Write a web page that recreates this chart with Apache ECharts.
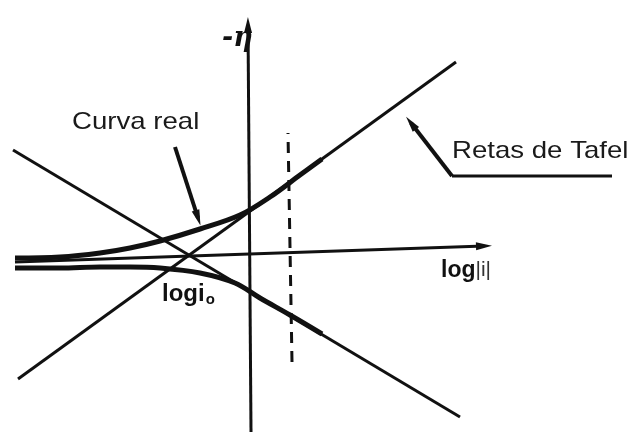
<!DOCTYPE html>
<html>
<head>
<meta charset="utf-8">
<script src="https://cdn.jsdelivr.net/npm/echarts@6/dist/echarts.min.js"></script>
<style>
  html, body { margin: 0; padding: 0; background: #fff; }
  #chart { width: 630px; height: 434px; }
</style>
</head>
<body>
<div id="chart"></div>
<script>
// Tafel diagram: -η (up) against log|i| (right), drawn in plane units 0..630 x 0..434.

// Tafel straight lines (start, end)
const tafelCathodic = [[13, 284], [460, 17]];
const tafelAnodic = [[18, 55], [456, 372]];

// Real polarisation curve, two branches leaving η = 0 and joining the Tafel lines
const realUpper = [[15, 176], [60, 177], [100, 181], [130, 186], [160, 193], [200, 205], [240, 219], [270, 237], [300, 259], [322, 275]];
const realLower = [[15, 166], [60, 166], [100, 167], [130, 167], [160, 166], [200, 161], [235, 151], [260, 136], [290, 119], [322, 100]];

// Axes (start, arrow end)
const axisLogI = [[15, 172], [484, 188]];
const axisEta = [[251, 2], [248, 409]];

// Dashed vertical marker
const dashedMarker = [[292, 72], [288, 301]];

// Pointers for the annotations
const pointerReal = [[175, 287], [198, 216]];
const pointerTafelFoot = [[612, 258], [452, 258]];
const pointerTafel = [[452, 258], [411, 311]];

// Annotation texts
const labelReal = 'Curva real';
const labelTafel = 'Retas de Tafel';

const chart = echarts.init(document.getElementById('chart'), null, { renderer: 'canvas' });

const ink = '#111';

function seg(p, opts) {
  return [Object.assign({ coord: p[0] }, opts || {}), { coord: p[1] }];
}

const option = {
  animation: false,
  backgroundColor: '#ffffff',
  grid: { left: 0, right: 0, top: 0, bottom: 0 },
  xAxis: { type: 'value', min: 0, max: 630, show: false },
  yAxis: { type: 'value', min: 0, max: 434, show: false },
  series: [
    {
      type: 'line',
      data: tafelCathodic,
      symbol: 'none',
      lineStyle: { color: ink, width: 3 }
    },
    {
      type: 'line',
      data: tafelAnodic,
      symbol: 'none',
      lineStyle: { color: ink, width: 3 }
    },
    {
      type: 'line',
      data: realUpper,
      symbol: 'none',
      smooth: 0.35,
      lineStyle: { color: ink, width: 5 }
    },
    {
      type: 'line',
      data: realLower,
      symbol: 'none',
      smooth: 0.35,
      lineStyle: { color: ink, width: 5 }
    },
    {
      type: 'line',
      data: dashedMarker,
      symbol: 'none',
      lineStyle: { color: ink, width: 3, type: [11, 8] }
    },
    {
      type: 'line',
      data: pointerTafelFoot,
      symbol: 'none',
      lineStyle: { color: ink, width: 3 }
    },
    {
      type: 'line',
      data: [],
      markLine: {
        silent: true,
        symbol: ['none', 'triangle'],
        label: { show: false },
        emphasis: { disabled: true },
        lineStyle: { color: ink, type: 'solid', width: 3 },
        data: [
          seg(axisLogI, { symbolSize: [13, 18] }),
          seg(axisEta, { symbolSize: [14, 26] }),
          seg(pointerReal, { symbolSize: [16, 22], lineStyle: { width: 4 } }),
          seg(pointerTafel, { symbolSize: [20, 24], lineStyle: { width: 4 } })
        ]
      }
    }
  ],
  graphic: [
    {
      type: 'text', left: 72, top: 110, scaleX: 1.15,
      style: { text: labelReal, font: '24px "Liberation Sans", Arial, sans-serif', fill: '#1a1a1a' }
    },
    {
      type: 'text', left: 452, top: 139, scaleX: 1.15,
      style: { text: labelTafel, font: '24px "Liberation Sans", Arial, sans-serif', fill: '#1a1a1a' }
    },
    {
      type: 'text', left: 222, top: 25,
      style: { text: '-η', font: 'bold italic 27px "DejaVu Serif", serif', fill: ink }
    },
    {
      type: 'text', left: 441, top: 259,
      style: {
        text: '{a|log}{b||i|}',
        rich: {
          a: { font: 'bold 23px "Liberation Sans Narrow", "Liberation Sans", Arial, sans-serif', fill: ink },
          b: { font: '21px "Liberation Sans", Arial, sans-serif', fill: '#333' }
        }
      }
    },
    {
      type: 'text', left: 162, top: 282,
      style: {
        text: '{a|logi}{s|o}',
        rich: {
          a: { font: 'bold 24px "Liberation Sans Narrow", "Liberation Sans", Arial, sans-serif', fill: ink },
          s: { font: 'bold 15px "Liberation Sans", Arial, sans-serif', fill: ink, padding: [12, 0, 0, 1] }
        }
      }
    }
  ]
};

chart.setOption(option);
</script>
</body>
</html>
